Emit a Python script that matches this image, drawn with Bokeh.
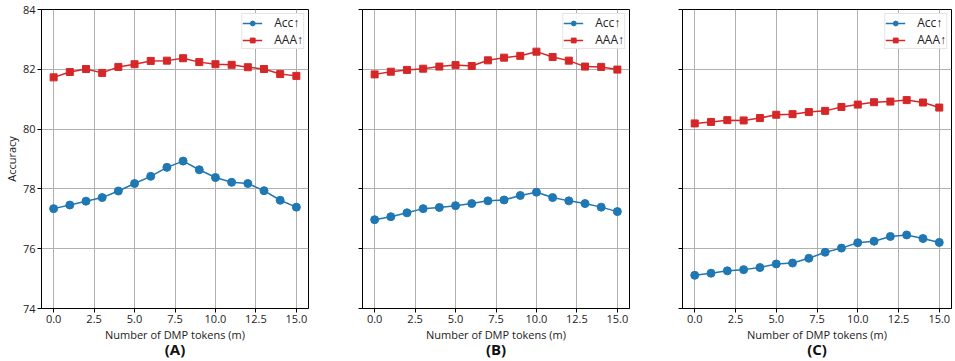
from bokeh.plotting import figure
from bokeh.layouts import row
from bokeh.models import (FixedTicker, PrintfTickFormatter, CustomJSTickFormatter,
                          Range1d, LinearAxis, Legend, LegendItem)
from bokeh.embed import file_html
from bokeh.resources import INLINE

# ---------------- data ----------------
tokens = list(range(16))
x_ticks = [0, 2.5, 5, 7.5, 10, 12.5, 15]
y_ticks = [74, 76, 78, 80, 82, 84]
panel_labels = ["(A)", "(B)", "(C)"]
series_names = ["Acc↑", "AAA↑"]

acc_a = [77.34, 77.46, 77.59, 77.71, 77.93, 78.18, 78.42, 78.72, 78.93, 78.64,
         78.38, 78.22, 78.18, 77.94, 77.62, 77.39]
aaa_a = [81.73, 81.91, 82.01, 81.88, 82.08, 82.17, 82.28, 82.29, 82.37, 82.24,
         82.17, 82.15, 82.07, 82.01, 81.84, 81.78]

acc_b = [76.97, 77.07, 77.20, 77.34, 77.38, 77.44, 77.51, 77.60, 77.63, 77.78,
         77.89, 77.71, 77.60, 77.51, 77.39, 77.24]
aaa_b = [81.83, 81.92, 81.98, 82.02, 82.09, 82.14, 82.11, 82.30, 82.39, 82.45,
         82.59, 82.41, 82.29, 82.09, 82.08, 81.99]

acc_c = [75.11, 75.18, 75.26, 75.30, 75.37, 75.49, 75.52, 75.68, 75.88, 76.02,
         76.20, 76.25, 76.41, 76.46, 76.34, 76.21]
aaa_c = [80.19, 80.24, 80.30, 80.29, 80.37, 80.48, 80.50, 80.57, 80.61, 80.74,
         80.82, 80.90, 80.92, 80.97, 80.89, 80.72]

ACC_COLOR = "#1f77b4"
AAA_COLOR = "#d62728"
FONT = "Open Sans"
X_MIN, X_MAX = -0.75, 15.75


def make_panel(acc, aaa, label, width, lb, rb, show_y):
    p = figure(width=width, height=361,
               x_range=Range1d(X_MIN, X_MAX), y_range=Range1d(74, 84),
               output_backend="svg", toolbar_location=None,
               min_border_left=lb, min_border_right=rb,
               min_border_top=9, min_border_bottom=0)
    p.background_fill_color = "white"
    p.border_fill_color = "white"
    p.outline_line_color = "black"
    p.outline_line_width = 1

    # grid
    p.xgrid.ticker = FixedTicker(ticks=x_ticks)
    p.ygrid.ticker = FixedTicker(ticks=y_ticks)
    for g in (p.xgrid, p.ygrid):
        g.grid_line_color = "#b0b0b0"
        g.grid_line_width = 1

    # axes
    p.xaxis.ticker = FixedTicker(ticks=x_ticks)
    p.xaxis.formatter = PrintfTickFormatter(format="%.1f")
    p.yaxis.ticker = FixedTicker(ticks=y_ticks)
    if show_y:
        p.yaxis.formatter = PrintfTickFormatter(format="%d")
        p.yaxis.axis_label = "Accuracy"
    else:
        p.yaxis.formatter = CustomJSTickFormatter(code="return '';")
    p.xaxis.axis_label = "Number of DMP tokens (m)"
    for ax in (p.xaxis[0], p.yaxis[0]):
        ax.axis_line_color = "black"
        ax.major_tick_line_color = "black"
        ax.major_tick_out = 4
        ax.major_tick_in = 0
        ax.minor_tick_line_color = None
        ax.major_label_text_font = FONT
        ax.major_label_text_font_size = "11px"
        ax.major_label_text_color = "#222222"
        ax.major_label_standoff = 2
        ax.axis_label_text_font = FONT
        ax.axis_label_text_font_size = "11px"
        ax.axis_label_text_font_style = "normal"
        ax.axis_label_text_color = "#222222"
        ax.axis_label_standoff = 1

    # panel tag "(A)" etc. as the label of a bare extra axis below
    tag_axis = LinearAxis(ticker=FixedTicker(ticks=[]), axis_label=label,
                          axis_line_color=None, major_tick_line_color=None,
                          minor_tick_line_color=None,
                          major_label_text_font_size="0px",
                          axis_label_text_font=FONT,
                          axis_label_text_font_size="15px",
                          axis_label_text_font_style="bold",
                          axis_label_text_color="#111111",
                          axis_label_standoff=-6)
    p.add_layout(tag_axis, "below")

    l1 = p.line(tokens, acc, line_color=ACC_COLOR, line_width=1.5)
    m1 = p.scatter(tokens, acc, marker="circle", size=8,
                   fill_color=ACC_COLOR, line_color=ACC_COLOR)
    l2 = p.line(tokens, aaa, line_color=AAA_COLOR, line_width=1.5)
    m2 = p.scatter(tokens, aaa, marker="square", size=7,
                   fill_color=AAA_COLOR, line_color=AAA_COLOR)

    legend = Legend(items=[LegendItem(label=series_names[0], renderers=[l1, m1]),
                           LegendItem(label=series_names[1], renderers=[l2, m2])],
                    location="top_right")
    legend.label_text_font = FONT
    legend.label_text_font_size = "12px"
    legend.label_text_color = "#222222"
    legend.glyph_width = 20
    legend.glyph_height = 12
    legend.label_height = 12
    legend.label_standoff = 12
    legend.spacing = -11
    legend.padding = 0
    legend.margin = 4
    legend.border_line_color = "#cccccc"
    legend.border_line_width = 1
    legend.background_fill_alpha = 0.9
    p.add_layout(legend)
    return p


pa = make_panel(acc_a, aaa_a, panel_labels[0], 335, 41, 27, True)
pb = make_panel(acc_b, aaa_b, panel_labels[1], 320, 27, 26, False)
pc = make_panel(acc_c, aaa_c, panel_labels[2], 298, 27, 2, False)

layout = row(pa, pb, pc, spacing=0)
open("out.html", "w").write(file_html(layout, INLINE))
